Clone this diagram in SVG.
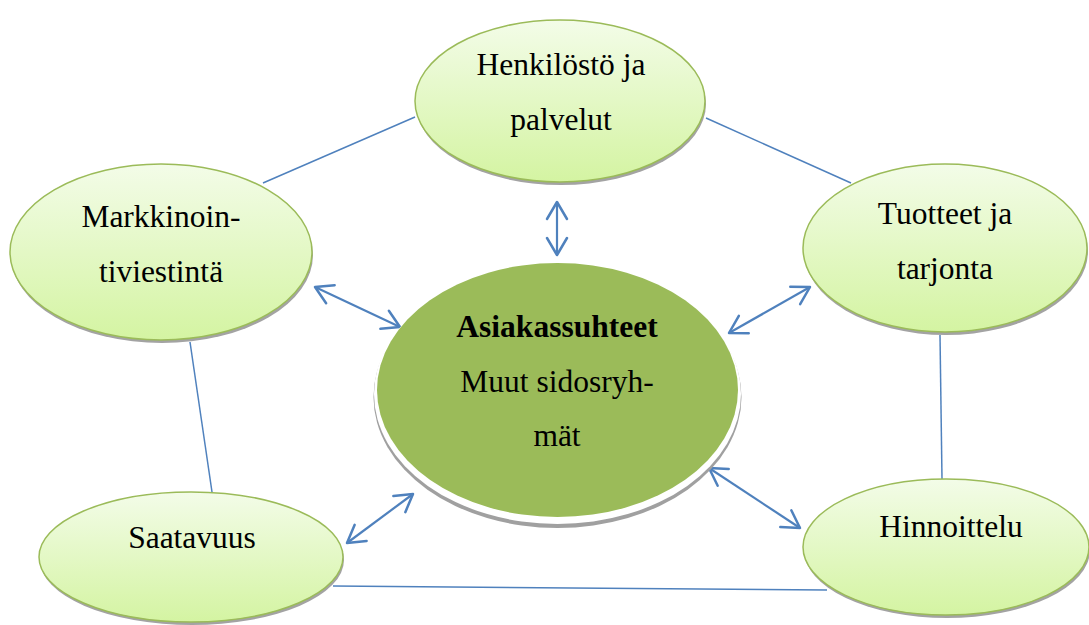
<svg xmlns="http://www.w3.org/2000/svg" width="1089" height="625" viewBox="0 0 1089 625">
<style>
.node{fill:url(#lg);stroke:#9BBB59;stroke-width:1.5}
.shadow{fill:#A3A3A3}
.t{font-family:'Liberation Serif','Times New Roman','DejaVu Serif',serif;font-size:31.5px;fill:#000;text-anchor:middle}
.b{font-weight:bold}
.line{stroke:#4F81BD;stroke-width:1.5;fill:none}
.arrow{stroke:#4F81BD;stroke-width:2.2;fill:none;marker-start:url(#ah);marker-end:url(#ah)}
</style>
<defs>
<linearGradient id="lg" x1="0" y1="0" x2="0" y2="1">
<stop offset="0" stop-color="#F3FCE8"/>
<stop offset="1" stop-color="#D4F4A2"/>
</linearGradient>
<marker id="ah" viewBox="-20 -12 24 24" refX="0" refY="0" markerWidth="24" markerHeight="24" markerUnits="userSpaceOnUse" orient="auto-start-reverse">
<path d="M-17,-10 L0,0 L-17,10" fill="none" stroke="#4F81BD" stroke-width="2.5" stroke-linejoin="round" stroke-linecap="round"/>
</marker>
</defs>
<rect width="1089" height="625" fill="#fff"/>
<g id="connectors">
<line class="line" x1="263" y1="183" x2="415" y2="117"/>
<line class="line" x1="706" y1="118" x2="851" y2="183"/>
<line class="line" x1="190" y1="342" x2="212" y2="492"/>
<line class="line" x1="940" y1="335" x2="942" y2="479"/>
<line class="line" x1="333" y1="586" x2="827" y2="590"/>
<line class="arrow" x1="557" y1="202" x2="557" y2="255"/>
<line class="arrow" x1="315" y1="287" x2="400" y2="327"/>
<line class="arrow" x1="810" y1="287" x2="729" y2="333"/>
<line class="arrow" x1="347" y1="543" x2="413" y2="494"/>
<line class="arrow" x1="709" y1="468" x2="800" y2="528"/>
</g>
<g id="center">
<ellipse cx="557.5" cy="397" rx="184" ry="131" fill="#A0A0A0"/>
<ellipse cx="557.5" cy="394" rx="183.5" ry="130" fill="#fff"/>
<ellipse cx="557.5" cy="390" rx="180.5" ry="127" fill="#9BBB59"/>
<text class="t b" x="557" y="337">Asiakassuhteet</text>
<text class="t" x="557" y="392">Muut sidosryh-</text>
<text class="t" x="557" y="446">mät</text>
</g>
<g id="henkilosto">
<ellipse class="shadow" cx="561" cy="104" rx="145" ry="81"/>
<ellipse class="node" cx="560" cy="101" rx="145" ry="81"/>
<text class="t" x="561" y="75">Henkilöstö ja</text>
<text class="t" x="561" y="130">palvelut</text>
</g>
<g id="markkinointi">
<ellipse class="shadow" cx="162" cy="255" rx="151" ry="88"/>
<ellipse class="node" cx="161" cy="252" rx="151" ry="88"/>
<text class="t" x="161" y="227">Markkinoin-</text>
<text class="t" x="161" y="282">tiviestintä</text>
</g>
<g id="tuotteet">
<ellipse class="shadow" cx="946" cy="251" rx="142" ry="84"/>
<ellipse class="node" cx="945" cy="248" rx="142" ry="84"/>
<text class="t" x="945" y="224">Tuotteet ja</text>
<text class="t" x="945" y="279">tarjonta</text>
</g>
<g id="saatavuus">
<ellipse class="shadow" cx="192" cy="560" rx="152" ry="65"/>
<ellipse class="node" cx="191" cy="557" rx="152" ry="65"/>
<text class="t" x="192" y="548">Saatavuus</text>
</g>
<g id="hinnoittelu">
<ellipse class="shadow" cx="947" cy="550" rx="143" ry="68"/>
<ellipse class="node" cx="946" cy="547" rx="143" ry="68"/>
<text class="t" x="951" y="537">Hinnoittelu</text>
</g>
</svg>
